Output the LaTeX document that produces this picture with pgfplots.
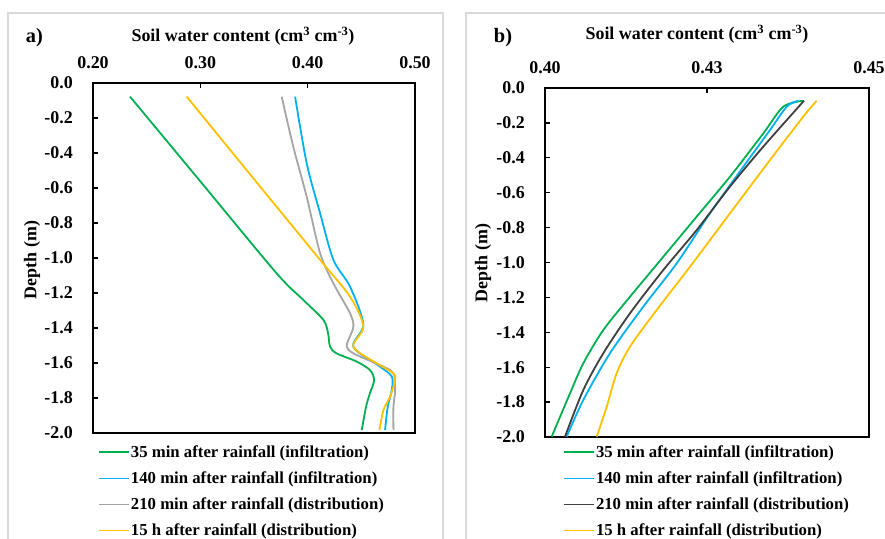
\documentclass[border=0pt]{standalone}
\usepackage{fontspec}
\setmainfont{Liberation Serif}
\usepackage{pgfplots}
\pgfplotsset{compat=1.18}

\definecolor{c35}{HTML}{00B050}
\definecolor{c140}{HTML}{00B0F0}
\definecolor{c210a}{HTML}{A5A5A5}
\definecolor{c210b}{HTML}{404040}
\definecolor{c15h}{HTML}{FFC000}
\definecolor{framegray}{HTML}{D9D9D9}

\newcommand{\tickfont}{\fontsize{18}{20}\selectfont\bfseries}
\newcommand{\legfont}{\fontsize{16.8}{18}\selectfont\bfseries}

\pgfplotsset{
  swc/.style={
    scale only axis,
    ymin=-2, ymax=0,
    ytick={-2,-1.8,-1.6,-1.4,-1.2,-1,-0.8,-0.6,-0.4,-0.2,0},
    yticklabels={-2.0,-1.8,-1.6,-1.4,-1.2,-1.0,-0.8,-0.6,-0.4,-0.2,0.0},
    xtick pos=upper, xticklabel pos=upper,
    ytick pos=lower,
    tick align=inside,
    major tick length=5bp,
    tick style={black, line width=1.3bp},
    axis line style={black, line width=1.3bp},
    ticklabel style={font=\tickfont},
    xticklabel style={inner sep=0pt, yshift=14bp},
    yticklabel style={inner sep=0pt, xshift=-20bp},
    every axis plot/.append style={line width=1.8bp, smooth, tension=0.5, no markers},
    legend cell align=left,
    legend image code/.code={\draw[#1] (0bp,0bp) -- (30bp,0bp);},
  },
}

\begin{document}
\begin{tikzpicture}
\path[use as bounding box] (0bp,0bp) rectangle (885bp,539bp);
\fill[white] (0bp,0bp) rectangle (885bp,539bp);
% panel frames
\draw[framegray, line width=1.5bp] (8bp,-10bp) -- (8bp,526bp) -- (443bp,526bp) -- (443bp,-10bp);
\draw[framegray, line width=1.5bp] (466bp,-10bp) -- (466bp,526bp) -- (900bp,526bp);

% ---------- panel a ----------
\begin{axis}[swc,
  at={(93bp,106bp)}, anchor=south west,
  width=322bp, height=350bp,
  xmin=0.2, xmax=0.5,
  xtick={0.2,0.3,0.4,0.5},
  xticklabels={0.20,0.30,0.40,0.50},
  legend style={at={(axis description cs:0,0)}, anchor=north west,
    xshift=5bp, yshift=-11.5bp, draw=none, fill=none, inner sep=0pt,
    row sep=10.8bp, font=\legfont, nodes={inner sep=1bp}},
]
\addplot[c35] table {
0.2345 -0.078
0.3028 -0.583
0.3710 -1.087
0.3960 -1.240
0.4147 -1.354
0.4190 -1.430
0.4209 -1.507
0.4270 -1.545
0.4457 -1.592
0.4580 -1.640
0.4619 -1.697
0.4580 -1.773
0.4544 -1.850
0.4504 -1.983
};
\addlegendentry{35 min after rainfall (infiltration)}
\addplot[c140] table {
0.3883 -0.078
0.3991 -0.459
0.4116 -0.745
0.4240 -1.011
0.4395 -1.164
0.4519 -1.380
0.4426 -1.507
0.4675 -1.621
0.4784 -1.678
0.4784 -1.754
0.4746 -1.850
0.4721 -1.983
};
\addlegendentry{140 min after rainfall (infiltration)}
\addplot[c210a] table {
0.3758 -0.078
0.3866 -0.364
0.3991 -0.650
0.4116 -0.973
0.4240 -1.145
0.4395 -1.316
0.4426 -1.392
0.4379 -1.469
0.4364 -1.507
0.4426 -1.545
0.4706 -1.621
0.4799 -1.659
0.4815 -1.754
0.4799 -1.850
0.4799 -1.983
};
\addlegendentry{210 min after rainfall (distribution)}
\addplot[c15h] table {
0.2873 -0.078
0.3494 -0.545
0.4116 -1.011
0.4395 -1.221
0.4519 -1.392
0.4426 -1.507
0.4644 -1.602
0.4799 -1.659
0.4815 -1.697
0.4768 -1.792
0.4706 -1.869
0.4669 -1.983
};
\addlegendentry{15 h after rainfall (distribution)}
\end{axis}

% ---------- panel b ----------
\begin{axis}[swc,
  at={(545bp,102bp)}, anchor=south west,
  width=324bp, height=349bp,
  xmin=0.4, xmax=0.45,
  xtick={0.4,0.425,0.45},
  xticklabels={0.40,0.43,0.45},
  legend style={at={(axis description cs:0,0)}, anchor=north west,
    xshift=18bp, yshift=-7.5bp, draw=none, fill=none, inner sep=0pt,
    row sep=10.8bp, font=\legfont, nodes={inner sep=1bp}},
]
\addplot[c35] table {
0.43986 -0.073
0.43678 -0.107
0.43369 -0.260
0.42855 -0.508
0.42341 -0.737
0.41826 -0.967
0.41312 -1.196
0.40900 -1.387
0.40591 -1.578
0.40386 -1.750
0.40103 -1.998
};
\addlegendentry{35 min after rainfall (infiltration)}
\addplot[c140] table {
0.43909 -0.073
0.43730 -0.107
0.43472 -0.241
0.43061 -0.451
0.42546 -0.718
0.42032 -1.005
0.41517 -1.253
0.41003 -1.520
0.40591 -1.788
0.40335 -1.998
};
\addlegendentry{140 min after rainfall (infiltration)}
\addplot[c210b] table {
0.43997 -0.073
0.43369 -0.336
0.42855 -0.565
0.42341 -0.814
0.41826 -1.043
0.41312 -1.291
0.40900 -1.520
0.40591 -1.731
0.40309 -1.998
};
\addlegendentry{210 min after rainfall (distribution)}
\addplot[c15h] table {
0.44193 -0.073
0.43986 -0.164
0.43472 -0.413
0.42855 -0.718
0.42238 -1.024
0.41724 -1.272
0.41312 -1.482
0.41106 -1.635
0.40952 -1.826
0.40798 -1.998
};
\addlegendentry{15 h after rainfall (distribution)}
\end{axis}

% titles and labels
\node[anchor=base, font=\tickfont] at (243bp,497bp) {Soil water content (cm\textsuperscript{3} cm\textsuperscript{-3})};
\node[anchor=base, font=\tickfont] at (697bp,499bp) {Soil water content (cm\textsuperscript{3} cm\textsuperscript{-3})};
\node[anchor=base, font=\fontsize{20.5}{22}\selectfont\bfseries] at (34.5bp,496bp) {a)};
\node[anchor=base, font=\fontsize{20.5}{22}\selectfont\bfseries] at (503bp,496bp) {b)};
\node[rotate=90, font=\tickfont] at (32bp,279bp) {Depth (m)};
\node[rotate=90, font=\tickfont] at (483bp,276bp) {Depth (m)};
\end{tikzpicture}
\end{document}
